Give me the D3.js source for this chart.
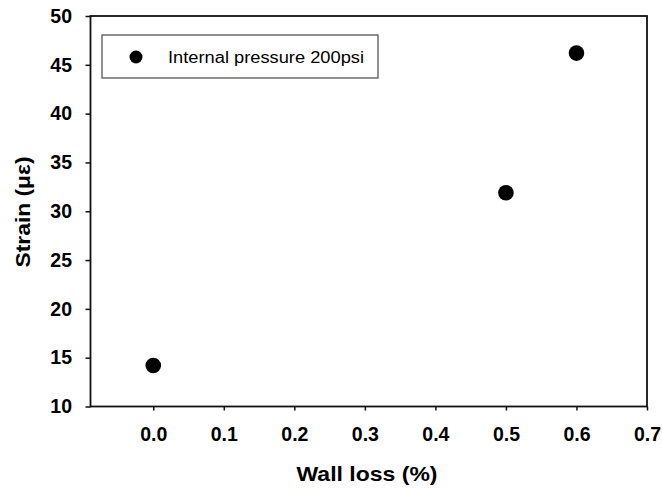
<!DOCTYPE html>
<html>
<head>
<meta charset="utf-8">
<script src="https://cdn.jsdelivr.net/npm/d3@7"></script>
<style>
  html, body { margin: 0; padding: 0; background: #fff; }
  svg { display: block; }
  text { font-family: "Liberation Sans", Arial, sans-serif; fill: #000; }
</style>
</head>
<body>
<svg id="chart" width="662" height="491"></svg>
<script>
const wallLoss = [0.0, 0.5, 0.6];
const strain = [14.2, 31.9, 46.2];
const xTicks = [0.0, 0.1, 0.2, 0.3, 0.4, 0.5, 0.6, 0.7];
const yTicks = [10, 15, 20, 25, 30, 35, 40, 45, 50];
const seriesName = "Internal pressure 200psi";
const xTitle = "Wall loss (%)";
const yTitle = "Strain (\u03bc\u03b5)";

const svg = d3.select("#chart");
const m = { left: 90.5, right: 647, top: 16, bottom: 406.5 };

const x = d3.scaleLinear().domain([-0.089, 0.7]).range([m.left, m.right]);
const y = d3.scaleLinear().domain([10, 50]).range([m.bottom, m.top]);

// frame
svg.append("rect")
  .attr("x", m.left).attr("y", m.top)
  .attr("width", m.right - m.left).attr("height", m.bottom - m.top)
  .attr("fill", "none").attr("stroke", "#111").attr("stroke-width", 1.8);

const xAxis = svg.append("g")
  .attr("transform", `translate(0,${m.bottom})`)
  .call(d3.axisBottom(x).tickValues(xTicks).tickFormat(d3.format(".1f")).tickSize(4).tickPadding(17));
xAxis.select(".domain").remove();
xAxis.selectAll("line").attr("stroke", "#111").attr("stroke-width", 1.5);
xAxis.selectAll("text").attr("font-size", 19.5).attr("font-weight", "bold").attr("font-family", "Liberation Sans, Arial, sans-serif");

const yAxis = svg.append("g")
  .attr("transform", `translate(${m.left},0)`)
  .call(d3.axisLeft(y).tickValues(yTicks).tickFormat(d3.format("d")).tickSize(5).tickPadding(13.5));
yAxis.select(".domain").remove();
yAxis.selectAll("line").attr("stroke", "#111").attr("stroke-width", 1.5);
yAxis.selectAll("text").attr("font-size", 19.5).attr("font-weight", "bold").attr("font-family", "Liberation Sans, Arial, sans-serif");

// points
svg.append("g").selectAll("circle")
  .data(wallLoss.map((d, i) => ({ x: d, y: strain[i] })))
  .join("circle")
  .attr("cx", d => x(d.x)).attr("cy", d => y(d.y))
  .attr("r", 7.8).attr("fill", "#000");

// legend
const lg = svg.append("g");
lg.append("rect")
  .attr("x", 102).attr("y", 35).attr("width", 276).attr("height", 43)
  .attr("fill", "#fff").attr("stroke", "#555").attr("stroke-width", 1.3);
lg.append("circle").attr("cx", 136).attr("cy", 57).attr("r", 6.5).attr("fill", "#000");
lg.append("text").attr("x", 168).attr("y", 62.5)
  .attr("font-size", 16).attr("textLength", 196).attr("lengthAdjust", "spacingAndGlyphs")
  .text(seriesName);

// axis titles
svg.append("text")
  .attr("x", 367).attr("y", 481)
  .attr("text-anchor", "middle").attr("font-size", 20.5).attr("font-weight", "bold")
  .attr("textLength", 141).attr("lengthAdjust", "spacingAndGlyphs")
  .text(xTitle);
svg.append("text")
  .attr("transform", "translate(29.5,212) rotate(-90)")
  .attr("text-anchor", "middle").attr("font-size", 20.5).attr("font-weight", "bold")
  .attr("textLength", 111).attr("lengthAdjust", "spacingAndGlyphs")
  .text(yTitle);
</script>
</body>
</html>
